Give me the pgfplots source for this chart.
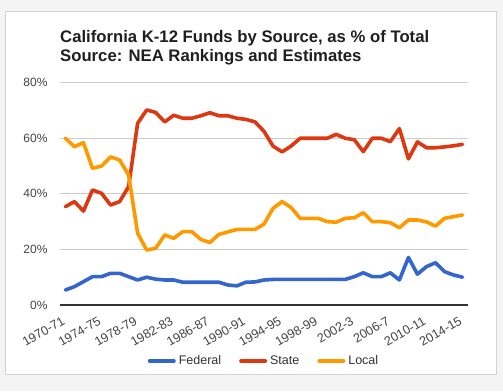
\documentclass[border=0pt]{standalone}
\usepackage{fontspec}
\setmainfont{Liberation Sans}
\usepackage{pgfplots}
\usepackage{pgfplotstable}
\pgfplotsset{compat=1.18}
\definecolor{fed}{HTML}{3366CC}
\definecolor{sta}{HTML}{DC3912}
\definecolor{loc}{HTML}{FF9900}
\definecolor{bg}{HTML}{F3F4F3}
\definecolor{card}{HTML}{D2D4D2}
\definecolor{txt}{HTML}{444444}
\definecolor{gridc}{HTML}{CCCCCC}
\definecolor{axc}{HTML}{333333}

\pgfplotstableread{
i F S L
0 5.4 35.4 60
1 6.6 37.2 57
2 8.4 33.8 58.4
3 10.2 41.4 49.2
4 10.2 40.2 50
5 11.4 36 53.3
6 11.4 37.2 52.2
7 10.2 42.6 46.8
8 9 65.4 25.8
9 10 70.2 19.8
10 9.3 69.3 20.4
11 9 65.9 25.2
12 9 68.3 24
13 8.2 67.2 26.4
14 8.2 67.2 26.4
15 8.2 68.1 23.6
16 8.2 69.2 22.5
17 8.2 68.1 25.4
18 7.2 68.1 26.3
19 6.9 67.2 27.2
20 8.2 66.8 27.2
21 8.3 65.9 27.2
22 9 62.5 29.1
23 9.2 57.2 34.8
24 9.2 55.1 37.2
25 9.2 57.2 35.1
26 9.2 60 31.2
27 9.2 60 31.2
28 9.2 60 31.2
29 9.2 60 30
30 9.2 61.4 29.8
31 9.2 60 31.2
32 10.2 59.5 31.4
33 11.6 55.2 33.2
34 10.2 60 30
35 10.2 60 30
36 11.6 58.8 29.6
37 9 63.5 27.8
38 17.1 52.6 30.6
39 11.1 58.7 30.6
40 13.8 56.6 29.9
41 15.2 56.6 28.4
42 12 56.9 31.2
43 10.8 57.3 31.8
44 10 57.8 32.4
}\data

\begin{document}
\begin{tikzpicture}[x=1pt,y=1pt]
\useasboundingbox (0,0) rectangle (503,391);
\fill[bg] (0,0) rectangle (503,391);
\filldraw[fill=white, draw=card, line width=1pt] (5,17) rectangle (496,379);
\node[anchor=base west, inner sep=0pt, font=\fontsize{16.7}{19}\selectfont\bfseries, text=black!88] at (60,348.3) {California K-12 Funds by Source, as \% of Total};
\node[anchor=base west, inner sep=0pt, font=\fontsize{16.7}{19}\selectfont\bfseries, text=black!88] at (60,329.3) {Source: NEA Rankings and Estimates};
\begin{axis}[
  at={(60pt,86pt)}, anchor=south west,
  scale only axis, width=408pt, height=222.3pt,
  xmin=-0.6, xmax=44.6, ymin=0, ymax=80,
  axis line style={draw=none},
  major tick length=0pt,
  xtick={0,4,...,44},
  xticklabels={1970-71,1974-75,1978-79,1982-83,1986-87,1990-91,1994-95,1998-99,2002-3,2006-7,2010-11,2014-15},
  ytick={20,40,60,80},
  extra y ticks={0},
  extra y tick style={major grid style={draw=axc, line width=1.2pt}},
  yticklabel={\pgfmathprintnumber{\tick}\%},
  /pgf/number format/assume math mode=true,
  ymajorgrids,
  major grid style={draw=gridc, line width=0.9pt},
  ticklabel style={font=\fontsize{12}{14}\selectfont, text=txt},
  xticklabel style={font=\fontsize{12.6}{14}\selectfont, rotate=30, anchor=east, inner sep=1pt, yshift=-12pt, xshift=-8pt},
  yticklabel style={anchor=east, xshift=-9pt},
  legend columns=3,
  legend style={at={(0.5,-0.252)}, anchor=center, draw=none, fill=none,
    font=\fontsize{12.5}{14}\selectfont, text=axc,
    /tikz/every odd column/.append style={column sep=1pt},
    /tikz/every even column/.append style={column sep=16pt}},
  legend image code/.code={\draw[#1, line width=4pt] (0pt,0pt) -- (24pt,0pt);},
  every axis plot/.append style={line width=3.6pt, line join=round, line cap=round, mark=none},
]
\addplot[fed] table[x=i, y=F] {\data};
\addplot[sta] table[x=i, y=S] {\data};
\addplot[loc] table[x=i, y=L] {\data};
\legend{Federal,State,Local}
\end{axis}
\end{tikzpicture}
\end{document}
